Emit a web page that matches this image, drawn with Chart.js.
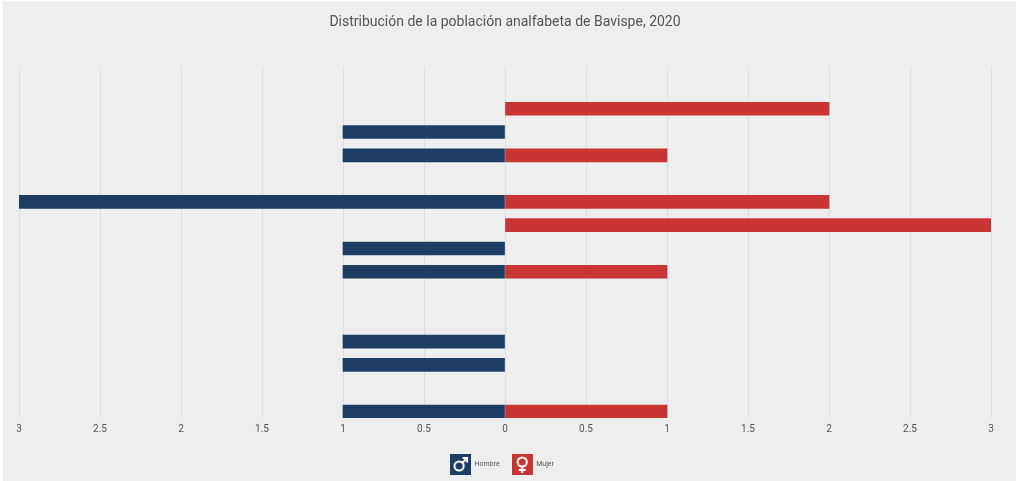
<!DOCTYPE html>
<html>
<head>
  <title>Población analfabeta de Bavispe</title>
  <script src="https://cdn.jsdelivr.net/npm/chart.js"></script>
  <style>
    html, body { margin: 0; background: #fff; }
    #box { width: 1016px; height: 481px; }
  </style>
</head>
<body>
<div id="box"><canvas id="chart" width="1016" height="481"></canvas></div>

<script>
// one row per age group, top to bottom
const rows = [0, 1, 2, 3, 4, 5, 6, 7, 8, 9, 10, 11, 12, 13];
const hombres = [0, 1, 1, 0, 3, 0, 1, 1, 0, 0, 1, 1, 0, 1];
const mujeres = [2, 0, 1, 0, 2, 3, 0, 1, 0, 0, 0, 0, 0, 1];
const xMax = 3;
const xStep = 0.5;
const titulo = 'Distribución de la población analfabeta de Bavispe, 2020';
const nombres = ['Hombre', 'Mujer'];
const colores = ['#1d3d63', '#c93535'];

const fontName = 'Roboto, sans-serif';

// legend badge: coloured square with a white gender symbol
function badge(color, male) {
  const c = document.createElement('canvas');
  c.width = 21; c.height = 21;
  const g = c.getContext('2d');
  g.fillStyle = color;
  g.fillRect(0, 0, 21, 21);
  g.strokeStyle = '#fff';
  g.lineWidth = 2;
  g.beginPath();
  if (male) {
    g.arc(9, 12, 4.6, 0, Math.PI * 2);
    g.moveTo(12.4, 8.6); g.lineTo(17, 4);
    g.moveTo(12.5, 4); g.lineTo(17, 4); g.lineTo(17, 8.5);
  } else {
    g.arc(10.5, 8, 4.6, 0, Math.PI * 2);
    g.moveTo(10.5, 12.6); g.lineTo(10.5, 19);
    g.moveTo(7, 16); g.lineTo(14, 16);
  }
  g.stroke();
  return c;
}

// zero counts get no bar at all, otherwise they leave a hairline on the axis
function serie(values, sign) {
  return rows
    .filter((r, i) => values[i] > 0)
    .map(r => ({ x: sign * values[r], y: r }));
}

const background = {
  id: 'background',
  afterLayout(chart) {
    // legend sits a little left of centre
    chart.legend.left -= 3;
    chart.legend.right -= 3;
  },
  beforeDraw(chart) {
    const ctx = chart.ctx;
    ctx.save();
    ctx.fillStyle = '#eeeeee';
    ctx.fillRect(3, 1, chart.width - 3, chart.height - 1);
    ctx.restore();
  }
};

new Chart(document.getElementById('chart'), {
  type: 'bar',
  plugins: [background],
  data: {
    datasets: [
      {
        label: nombres[0],
        data: serie(hombres, -1),
        backgroundColor: colores[0],
        pointStyle: badge(colores[0], true)
      },
      {
        label: nombres[1],
        data: serie(mujeres, 1),
        backgroundColor: colores[1],
        pointStyle: badge(colores[1], false)
      }
    ]
  },
  options: {
    indexAxis: 'y',
    responsive: false,
    animation: false,
    grouped: false,
    barThickness: 13,
    layout: { padding: { left: 19, right: 25, top: 14, bottom: 3 } },
    scales: {
      x: {
        type: 'linear',
        min: -xMax,
        max: xMax,
        afterFit: s => { s.height += 9; },
        grid: { color: '#dddddd', lineWidth: 1, drawTicks: false },
        border: { display: false },
        ticks: {
          stepSize: xStep,
          maxRotation: 0,
          padding: 5,
          color: '#555',
          font: { family: fontName, size: 10 },
          callback: v => Math.abs(v)
        }
      },
      y: {
        type: 'linear',
        reverse: true,
        offset: false,
        min: -1.8,
        max: 13.28,
        display: false
      }
    },
    plugins: {
      tooltip: { enabled: false },
      title: {
        display: true,
        text: titulo,
        color: '#555',
        font: { family: fontName, size: 14, weight: 'normal' },
        padding: { top: 0, bottom: 36 }
      },
      legend: {
        position: 'bottom',
        labels: {
          usePointStyle: true,
          pointStyleWidth: 21,
          padding: 12,
          color: '#555',
          font: { family: fontName, size: 7 }
        }
      }
    }
  }
});
</script>
</body>
</html>
